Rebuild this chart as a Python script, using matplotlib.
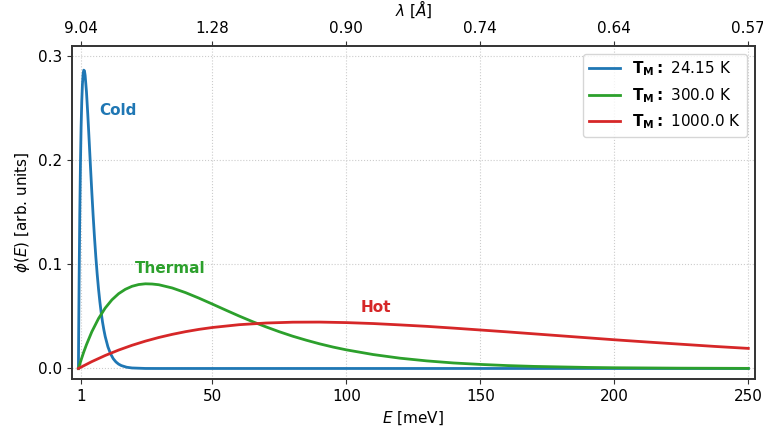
import matplotlib
matplotlib.use("Agg")
import matplotlib.pyplot as plt

# energies [meV] and values
e_cold = [0, 0.1, 0.25, 0.5, 0.75, 1, 1.25, 1.5, 1.75, 2.0, 2.25, 2.5, 3, 3.5, 4, 4.5, 5, 5.5,
          6, 6.5, 7, 7.5, 8, 8.5, 9, 9.5, 10, 11, 12, 13, 14, 15, 16, 18, 20, 25, 30, 60, 100,
          150, 200, 250]
phi_cold = [0, 0.0357, 0.0831, 0.1474, 0.1961, 0.2318, 0.2570, 0.2735, 0.2829, 0.2868, 0.2861,
            0.2819, 0.2661, 0.2440, 0.2194, 0.1940, 0.1696, 0.1467, 0.1259, 0.1072, 0.0908,
            0.0765, 0.0642, 0.0536, 0.0446, 0.0371, 0.0307, 0.0209, 0.0141, 0.0094, 0.0063,
            0.0042, 0.0028, 0.0012, 0.0005, 0.00003, 0, 0, 0, 0, 0, 0]

e_thermal = [0, 1, 2, 3, 5, 7.5, 10, 12.5, 15, 17.5, 20, 22.5, 25, 27.5, 30, 35, 40, 45, 50, 55,
             60, 65, 70, 75, 80, 85, 90, 95, 100, 110, 120, 130, 140, 150, 160, 170, 180, 190,
             200, 225, 250]
phi_thermal = [0, 0.0082, 0.0159, 0.0229, 0.0353, 0.0480, 0.0581, 0.0660, 0.0719, 0.0761,
               0.0790, 0.0807, 0.0814, 0.0812, 0.0805, 0.0774, 0.0729, 0.0676, 0.0619, 0.0561,
               0.0504, 0.0450, 0.0400, 0.0353, 0.0310, 0.0272, 0.0237, 0.0206, 0.0179, 0.0134,
               0.0099, 0.0073, 0.0053, 0.0039, 0.0028, 0.0020, 0.0015, 0.0010, 0.0007, 0.0003,
               0.0001]

e_hot = [0, 5, 10, 15, 20, 25, 30, 35, 40, 45, 50, 60, 70, 80, 90, 100, 110, 120, 130, 140, 150,
         160, 170, 180, 190, 200, 212.5, 225, 237.5, 250]
phi_hot = [0, 0.0066, 0.0125, 0.0177, 0.0223, 0.0263, 0.0298, 0.0328, 0.0354, 0.0376, 0.0394,
           0.0421, 0.0437, 0.0445, 0.0446, 0.0441, 0.0432, 0.0419, 0.0405, 0.0388, 0.0370,
           0.0352, 0.0333, 0.0314, 0.0295, 0.0276, 0.0254, 0.0233, 0.0212, 0.0193]

temps = ["24.15", "300.0", "1000.0"]
colors = ["tab:blue", "tab:green", "tab:red"]
names = ["Cold", "Thermal", "Hot"]
name_pos = [(7.7, 0.248), (21.2, 0.096), (105.3, 0.0587)]

e_ticks = [1, 50, 100, 150, 200, 250]
lam_labels = ["9.04", "1.28", "0.90", "0.74", "0.64", "0.57"]

plt.rcParams["font.size"] = 11
fig = plt.figure(figsize=(7.63, 4.34), dpi=100)
ax = fig.add_axes([0.094, 0.127, 0.8955, 0.767])

for e, phi, t, c in zip([e_cold, e_thermal, e_hot], [phi_cold, phi_thermal, phi_hot], temps, colors):
    ax.plot(e, phi, color=c, lw=2, label=r"$\mathbf{T_M:}$ " + t + " K")

for n, (x, y), c in zip(names, name_pos, colors):
    ax.text(x, y, n, color=c, fontweight="bold", fontsize=11, va="center", ha="left")

ax.set_xlim(-2.5, 252.5)
ax.set_ylim(-0.01, 0.31)
ax.set_xticks(e_ticks)
ax.set_yticks([0.0, 0.1, 0.2, 0.3])
ax.set_xlabel("$E$ [meV]")
ax.set_ylabel(r"$\phi(E)$ [arb. units]")
ax.grid(True, ls=":", color="#cccccc", lw=0.8)
ax.legend(loc="upper right")

top = ax.twiny()
top.set_xlim(ax.get_xlim())
top.set_xticks(e_ticks)
top.set_xticklabels(lam_labels)
top.set_xlabel(r"$\lambda$ [$\AA$]", labelpad=4)

for a in (ax, top):
    for s in a.spines.values():
        s.set_color("#333333")
        s.set_linewidth(1.2)
    a.tick_params(colors="#333333", labelcolor="black")

fig.savefig("out.png", dpi=100)
